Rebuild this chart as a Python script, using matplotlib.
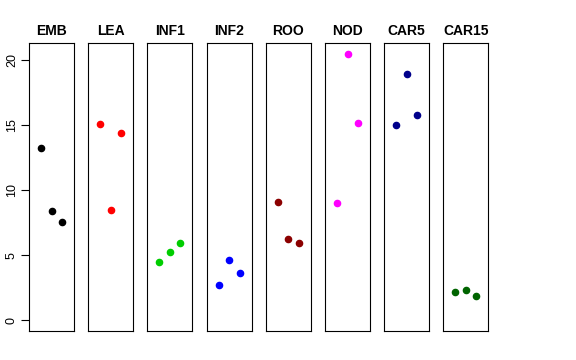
import matplotlib
matplotlib.use("Agg")
import matplotlib.pyplot as plt

plt.rcParams['font.family'] = ['Liberation Sans', 'DejaVu Sans']

groups = ['EMB', 'LEA', 'INF1', 'INF2', 'ROO', 'NOD', 'CAR5', 'CAR15']
colors = ['black', 'red', '#00CD00', 'blue', '#8B0000', 'magenta', '#00008B', '#006400']
xpos = [1, 2, 3]
values = [
    [13.23, 8.41, 7.59],
    [15.10, 8.48, 14.38],
    [4.46, 5.28, 5.97],
    [2.74, 4.64, 3.64],
    [9.12, 6.23, 5.97],
    [9.00, 20.51, 15.15],
    [15.05, 18.95, 15.79],
    [2.18, 2.31, 1.89],
]
yticks = [0, 5, 10, 15, 20]

W, H = 576, 360
fig = plt.figure(figsize=(W / 100, H / 100), dpi=100)

left0, step, pw = 29, 59.2, 45
top, bottom = 43, 331
for i, (g, c, v) in enumerate(zip(groups, colors, values)):
    x0 = left0 + i * step
    ax = fig.add_axes([x0 / W, 1 - bottom / H, pw / W, (bottom - top) / H])
    ax.scatter(xpos, v, s=20, color=c, zorder=3)
    ax.set_xlim(-0.13, 4.13)
    ax.set_ylim(-0.82, 21.33)
    ax.set_xticks([])
    for sp in ax.spines.values():
        sp.set_linewidth(0.8)
        sp.set_color('black')
    ax.set_title(g, fontsize=10, fontweight='bold', pad=6)
    if i == 0:
        ax.set_yticks(yticks)
        ax.set_yticklabels([str(t) for t in yticks], rotation=90, va='center', fontsize=9)
        ax.tick_params(axis='y', length=6, width=0.8, pad=2)
    else:
        ax.set_yticks([])

fig.savefig('out.png', dpi=100)
